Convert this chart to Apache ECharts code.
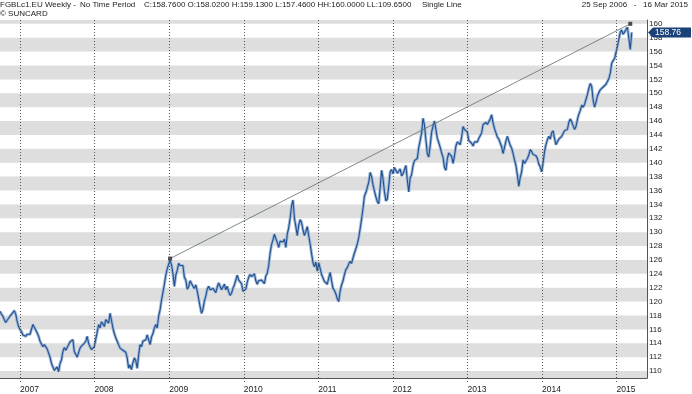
<!DOCTYPE html>
<html>
<head>
<meta charset="utf-8">
<script src="https://cdn.jsdelivr.net/npm/echarts@6/dist/echarts.min.js"></script>
<style>
html,body{margin:0;padding:0;background:#fff;}
#chart{width:692px;height:394px;}
</style>
</head>
<body>
<div id="chart"></div>
<script>
// Weekly closes, FGBLc1 (Euro-Bund future), first week 25 Sep 2006
const firstWeek = '2006-09-25';
const closes2006to2008 = [
118.6,118.2,117.9,117.4,117.0,116.8,117.6,117.9,118.1,118.4,
118.7,118.2,117.2,116.4,116.0,115.7,115.2,115.1,115.0,115.3,
115.5,115.3,115.4,116.7,116.3,115.9,115.5,115.0,114.3,113.9,
113.5,113.8,113.6,113.2,112.6,112.0,111.1,110.6,110.1,110.3,
110.6,109.9,111.1,111.6,112.8,113.4,113.0,112.9,113.8,114.2,
114.4,114.5,112.8,112.6,112.0,111.9,113.3,113.6,113.8,114.0,
114.3,115.0,114.0,113.5,113.1,113.2,113.5,114.6,115.6,116.7,
116.2,117.1,116.8,116.4,117.4,117.2,116.9,118.3,117.3,116.2,
115.4,114.8,114.3,113.8,113.3,113.5,113.0,112.9,112.7,111.9,
110.4,110.9,110.2,111.2,111.9,111.5,110.4,112.3,113.8,113.5,
114.3,114.2,114.5,115.2,114.5,113.8,114.9,115.4,116.2,116.7,
116.2,117.9,118.8,120.2,121.3,122.5,123.8,124.7,125.4,126.0
];
const closes2009to2011 = [
125.3,124.0,122.2,123.8,124.5,125.5,125.2,125.0,125.2,123.5,
123.1,121.8,122.1,123.0,122.8,122.2,121.9,122.4,121.5,120.4,
119.3,118.3,118.9,120.1,120.8,121.8,122.2,121.7,121.6,121.9,
122.0,121.3,122.1,122.7,122.2,121.7,121.8,122.5,121.7,122.2,
121.4,120.9,121.2,121.9,122.4,123.1,123.8,123.1,123.2,122.6,
121.5,121.3,121.8,122.8,123.5,123.9,123.6,123.5,124.0,123.0,
122.5,123.0,122.8,123.1,123.0,122.6,123.7,124.1,125.2,127.0,
128.2,128.9,129.7,129.8,128.5,127.8,128.7,128.8,128.6,129.0,
127.8,129.7,130.6,132.0,133.8,134.6,132.0,130.8,129.5,131.0,
131.8,131.4,130.3,129.5,130.1,130.8,129.5,128.3,126.9,125.6,
125.0,125.7,124.4,125.6,124.8,123.9,123.4,122.9,123.1,122.5,
123.4
];
const closes2011to2013 = [
124.2,123.0,121.9,121.6,121.1,120.4,120.0,121.5,122.4,
123.0,123.9,124.6,124.9,125.4,125.8,125.5,126.3,127.0,127.6,
128.3,129.2,130.5,131.9,133.4,135.2,135.7,135.9,137.2,138.6,
138.0,136.8,135.9,135.1,134.4,134.1,136.4,138.9,137.7,135.8,
134.5,134.8,136.7,138.7,139.0,138.4,139.3,139.1,138.5,138.3,
139.1,138.1,138.4,139.0,139.6,137.5,135.8,137.8,138.3,139.6,
140.3,140.3,140.6,142.2,143.2,144.3,146.4,145.4,143.3,141.3,
140.8,142.5,144.4,145.3,146.0,144.8,143.5,142.9,142.2,141.4,
140.8,139.3,138.9,140.6,141.4,141.5,140.9,139.9,141.0,142.4,
143.0,142.8,142.6,143.7,145.2,144.8,145.0,144.4,143.2,143.4,
142.8,142.4,143.0,142.9,143.0,143.5
];
const closes2013to2015 = [
143.6,144.3,145.5,145.5,
145.8,145.5,145.4,146.3,146.9,145.7,144.9,144.3,143.7,143.4,
143.3,142.3,141.3,142.2,143.1,143.8,144.0,142.5,142.1,141.3,
140.4,139.6,138.2,136.6,137.9,138.7,140.4,139.9,140.1,140.6,
141.1,141.9,141.6,141.2,141.4,141.0,140.6,139.8,139.4,138.7,
140.0,141.6,142.6,143.3,143.8,143.4,144.3,144.6,143.5,142.6,
142.8,143.4,143.2,143.8,144.2,144.6,144.5,144.8,145.8,146.3,
145.9,145.3,144.8,145.2,146.2,147.0,147.5,148.3,148.0,148.4,
149.1,149.8,150.7,151.4,151.0,149.0,148.0,148.7,149.6,150.1,
150.5,150.3,150.9,151.0,151.3,151.7,152.1,152.9,154.3,154.7,
155.0,155.9,156.7,157.8,158.8,159.1,158.5,158.8,159.2,159.5,
159.3,156.3,158.76
];
// Trend line (drawn through the Dec 2008 high and the 2015 high)
const trendDates = ['2009-01-05', '2015-03-09'];
const trendValues = [126.2, 160.0];
// Axis labels
const priceTicks = [110,112,114,116,118,120,122,124,126,128,130,132,134,136,138,140,142,144,146,148,150,152,154,156,158,160];
const yearLabels = ['2007','2008','2009','2010','2011','2012','2013','2014','2015'];
// Header texts
const headerTitle = 'FGBLc1.EU Weekly -';
const headerPeriod = 'No Time Period';
const headerFields = 'C:158.7600 O:158.0200 H:159.1300 L:157.4600 HH:160.0000 LL:109.6500';
const headerStyle = 'Single Line';
const headerCopy = '\u00A9 SUNCARD';
const headerRange = '25 Sep 2006   -   16 Mar 2015';

const WEEK = 7 * 86400000;
const closes = closes2006to2008.concat(closes2009to2011, closes2011to2013, closes2013to2015);
const t0 = new Date(firstWeek).getTime();
const dates = closes.map((_, i) => t0 + i * WEEK);
const priceData = closes.map((v, i) => [dates[i], v]);
const trendData = trendDates.map((d, i) => [new Date(d).getTime(), trendValues[i]]);
const yearValues = yearLabels.map(y => Date.UTC(+y, 0, 1));

const yMin = 109.0, yMax = 160.55;
const xMin = t0, xMax = t0 + 452.7 * WEEK;
const bands = [];
const bandBase = priceTicks[0] - 2;
for (let b = bandBase; b <= priceTicks[priceTicks.length - 1]; b += 4) {
  bands.push([{ yAxis: Math.max(b, yMin) }, { yAxis: Math.min(b + 2, yMax) }]);
}

const FONT = 'Liberation Sans';
const chart = echarts.init(document.getElementById('chart'), null, { renderer: 'canvas' });

const option = {
  animation: false,
  backgroundColor: '#ffffff',
  grid: { left: 0, right: 45, top: 20, bottom: 16, containLabel: false },
  xAxis: {
    type: 'value', min: xMin, max: xMax,
    axisLine: { show: true, lineStyle: { color: '#555', width: 1 } },
    axisTick: { show: true, customValues: yearValues, length: 4, inside: false,
      lineStyle: { color: '#555', type: [1, 2], width: 1 } },
    axisLabel: { show: true, customValues: yearValues, align: 'left', margin: 7,
      fontFamily: FONT, fontSize: 8.5, color: '#222',
      formatter: v => String(new Date(v).getUTCFullYear()) },
    splitLine: { show: false }
  },
  yAxis: {
    type: 'value', position: 'right', min: yMin, max: yMax,
    axisLine: { show: true, lineStyle: { color: '#555', width: 1 } },
    axisTick: { show: false },
    axisLabel: { show: true, customValues: priceTicks, margin: 2,
      fontFamily: FONT, fontSize: 8, color: '#222', align: 'left' },
    splitLine: { show: false }
  },
  series: [
    {
      name: 'bg', type: 'line', data: [], z: 1, silent: true,
      markArea: { silent: true, itemStyle: { color: '#dedede' }, data: bands },
      markLine: { silent: true, symbol: ['none', 'none'], label: { show: false },
        lineStyle: { color: '#555', type: [1, 2], width: 1 },
        data: yearValues.map(v => ({ xAxis: v })) }
    },
    {
      name: 'halo', type: 'line', data: priceData, z: 3, showSymbol: false, symbol: 'none',
      lineStyle: { color: '#9fb8d8', width: 3 }, silent: true
    },
    {
      name: 'close', type: 'line', data: priceData, z: 4, showSymbol: false, symbol: 'none',
      lineStyle: { color: '#21508f', width: 1.1 }, silent: true
    },
    {
      name: 'trend', type: 'line', data: trendData, z: 5, symbol: 'rect', symbolSize: 4,
      showSymbol: true, lineStyle: { color: '#5d6d6b', width: 0.8 },
      itemStyle: { color: '#4a4a4a' }, silent: true
    }
  ]
};
chart.setOption(option);

const last = priceData[priceData.length - 1];
const py = chart.convertToPixel({ xAxisIndex: 0, yAxisIndex: 0 }, last)[1];
const txt = (text, x, y, extra) => Object.assign({
  type: 'text', x: x, y: y, silent: true,
  style: { text: text, fill: '#222', font: '8px "' + FONT + '"', textVerticalAlign: 'middle' }
}, extra || {});
const graphics = [
  txt(headerTitle, 0, 5),
  txt(headerPeriod, 80, 5),
  txt(headerFields, 144, 5),
  txt(headerStyle, 422, 5),
  txt(headerCopy, 0, 14),
  { type: 'text', x: 688, y: 5, silent: true,
    style: { text: headerRange, fill: '#222', font: '8px "' + FONT + '"', textAlign: 'right', textVerticalAlign: 'middle' } },
  { type: 'polygon', silent: true, z: 100,
    shape: { points: [[648, py], [653, py - 5], [691, py - 5], [691, py + 5], [653, py + 5]] },
    style: { fill: '#1a4279' } },
  { type: 'text', x: 655, y: py, silent: true, z: 101,
    style: { text: last[1].toFixed(2), fill: '#ffffff', font: '8.5px "' + FONT + '"', textVerticalAlign: 'middle' } }
];
chart.setOption({ graphic: graphics });
</script>
</body>
</html>
